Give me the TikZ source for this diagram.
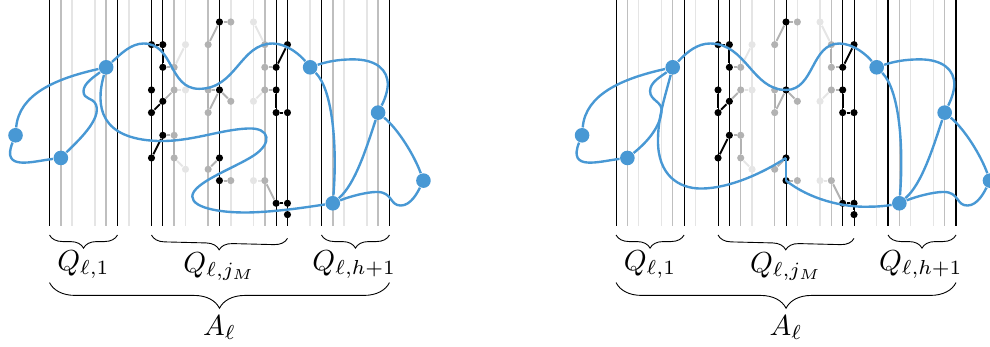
\documentclass[tikz,border=0pt]{standalone}
\usepackage{amsmath, amssymb}
\usetikzlibrary{decorations.pathreplacing}
\definecolor{walkblue}{RGB}{72,152,212}
\colorlet{tonedark}{black}
\colorlet{tonemid}{black!25}
\colorlet{tonelight}{black!10}
\tikzset{
    vline/.style={line width=0.35pt},
    dot/.style={circle, inner sep=0pt, minimum size=2.4pt},
    edge/.style={line width=0.65pt},
    bigdot/.style={circle, fill=walkblue, inner sep=0pt, minimum size=4.9pt},
    walk/.style={draw=walkblue, line width=0.8pt, line join=round},
    smallbrace/.style={decorate, decoration={brace, mirror, amplitude=4.4pt}, line width=0.3pt},
    bigbrace/.style={decorate, decoration={brace, mirror, amplitude=8.6pt}, line width=0.3pt},
    tag/.style={scale=0.97}
}
% everything the two panels share
\newcommand{\panel}[1]{
    \foreach \col in {0,6,9,10,15,20,21,24,30} \draw[vline, tonedark] (\col,-2) -- (\col,18);
    \foreach \col in {1,5,11,14,19,25,29} \draw[vline, tonemid, line width=0.5pt] (\col,-2) -- (\col,18);
    \foreach \col in {2,4,7,12,16,18,23,26,28} \draw[vline, tonelight, line width=0.5pt] (\col,-2) -- (\col,18);
    \foreach \col/\row in {18/0,12/2,12/6,18/7,12/13,18/14} \node[dot, fill=black!10] (#1-\col-\row) at (\col,\row) {};
    \foreach \col/\row in {16/0,14/2,19/2,11/4,19/4,11/6,14/6,14/8,16/7,19/6,11/10,11/12,14/13,16/14,19/14} \node[dot, fill=black!30] (#1-\col-\row) at (\col,\row) {};
    \foreach \col/\row in {15/0,9/2,10/2,10/4,21/2,20/4,9/6,9/8,10/7,15/6,20/6,20/8,21/8,10/10,9/12,15/12,15/14,20/16,21/16,21/17} \node[dot, fill=black] (#1-\col-\row) at (\col,\row) {};
    \foreach \a/\b in {11-4/12-2,11-6/12-6,18-0/19-2,18-7/19-6,11-12/12-13,18-14/19-14} \draw[edge, black!10] (#1-\a) -- (#1-\b);
    \foreach \a/\b in {15-0/16-0,14-2/15-0,10-4/11-4,10-7/11-6,14-6/14-8,14-8/15-6,14-6/15-6,15-6/16-7,19-2/19-4,19-4/20-4,19-6/20-6,10-10/11-10,11-10/11-12,14-13/15-12,15-14/16-14,19-14/20-16} \draw[edge, black!30] (#1-\a) -- (#1-\b);
    \foreach \a/\b in {9-2/10-2,10-2/10-4,21-2/20-4,9-6/9-8,9-8/10-7,20-6/20-8,20-8/21-8,10-10/9-12,15-12/15-14,20-16/21-16,21-16/21-17} \draw[edge, black] (#1-\a) -- (#1-\b);
    \node[bigdot] (#1a) at (-3,10) {};
    \node[bigdot] (#1b) at (1,12) {};
    \node[bigdot] (#1c) at (5,4) {};
    \node[bigdot] (#1d) at (23,4) {};
    \node[bigdot] (#1e) at (25,16) {};
    \node[bigdot] (#1f) at (29,8) {};
    \node[bigdot] (#1g) at (33,14) {};
    \draw[walk] (#1a) .. controls (-2.7,6.4) and (0.5,5) .. (#1c);
    \draw[walk] (#1a) .. controls (-4.3,13.2) and (-1.5,12.3) .. (#1b);
    \draw[walk] (#1d) .. controls (25,6) and (25.4,11) .. (#1e);
    \draw[walk] (#1d) .. controls (24.5,3.5) and (25.5,3.3) .. (26.8,3.3) .. controls (28.8,3.3) and (29.9,4.2) .. (29.85,5.6) .. controls (29.8,6.4) and (29.4,7.2) .. (#1f);
    \draw[walk] (#1f) .. controls (28,11) and (27,14.3) .. (#1e);
    \draw[walk] (#1f) .. controls (30.8,9.5) and (32.2,11.8) .. (#1g);
    \draw[walk] (#1e) .. controls (26.5,15.4) and (28,15) .. (28.9,15) .. controls (30.3,15) and (30,16.2) .. (31,16.2) .. controls (31.9,16.2) and (32.5,15) .. (#1g);
    \coordinate (#1q1s) at (0,18.8);
    \coordinate (#1q1e) at (6,18.8);
    \coordinate (#1qjs) at (9,18.8);
    \coordinate (#1qje) at (21,19.1);
    \coordinate (#1qhs) at (24,18.8);
    \coordinate (#1qhe) at (30,18.8);
    \coordinate (#1as) at (0,23);
    \coordinate (#1ae) at (30,23);
    \draw[smallbrace] (#1q1s) -- (#1q1e);
    \draw[smallbrace] (#1qjs) -- (#1qje);
    \draw[smallbrace] (#1qhs) -- (#1qhe);
    \draw[bigbrace] (#1as) -- (#1ae);
    \node[tag] (#1lq1) at (3,21.4) {$Q_{\ell,1}$};
    \node[tag] (#1lqj) at (15,21.6) {$Q_{\ell,j_M}$};
    \node[tag] (#1lqh) at (26.9,21.4) {$Q_{\ell,h+1}$};
    \node[tag] (#1la) at (15,27) {$A_\ell$};
}

\begin{document}
\begin{tikzpicture}[x=3.8pt, y=-3.8pt]
\useasboundingbox (-4.37,-1.94) rectangle (83,28.68);
\clip (-4.37,-1.94) rectangle (83,28.68);
\panel{L}
\draw[walk] (Lb) .. controls (2.5,10.5) and (4.6,8.6) .. (4.1,7.3) .. controls (3.8,6.6) and (3,6.9) .. (3,6.1) .. controls (3,5.4) and (4,4.8) .. (Lc);
\draw[walk] (Lc) .. controls (4,7.5) and (4.5,10.3) .. (9.5,10.5) .. controls (12.5,10.6) and (15,9.5) .. (17.5,9.4) .. controls (19.5,9.3) and (19.7,10.7) .. (18,11.8) .. controls (16.3,12.9) and (12.6,14.2) .. (12.6,15.4) .. controls (12.6,16.5) and (15.5,16.9) .. (18,16.8) .. controls (20.5,16.7) and (23,16.3) .. (Le);
\draw[walk] (Lc) .. controls (6.3,2.8) and (7.2,1.9) .. (8.3,1.9) .. controls (11,1.9) and (10.5,5.9) .. (13.2,5.9) .. controls (16.5,5.9) and (16.8,1.9) .. (19.7,1.9) .. controls (21,1.9) and (22.2,3) .. (Ld);
\begin{scope}[shift={(50,0)}]
\panel{R}
\draw[walk] (Rb) .. controls (2.5,10.8) and (3.8,9.5) .. (4,8) .. controls (4.2,7) and (3,7) .. (3,6.1) .. controls (3,5.3) and (4,4.8) .. (Rc);
\draw[walk] (Rc) .. controls (4.2,7) and (3.7,8.5) .. (3.7,10.5) .. controls (3.7,13.5) and (5.5,14.7) .. (7.5,14.7) .. controls (10,14.7) and (13,13.3) .. (R-15-12.center);
\draw[walk] (R-15-12.center) -- (R-15-14.center);
\draw[walk] (R-15-14.center) .. controls (17,15.6) and (20,16.4) .. (22.4,16.3) .. controls (23.3,16.3) and (24,16.2) .. (Re);
\draw[walk] (Rc) .. controls (6.3,2.6) and (7.2,1.9) .. (8.3,1.9) .. controls (11.5,1.9) and (12,6) .. (15,6) .. controls (17.5,6) and (17.2,1.9) .. (19.7,1.9) .. controls (21,1.9) and (22.2,3) .. (Rd);
\end{scope}
\end{tikzpicture}
\end{document}
